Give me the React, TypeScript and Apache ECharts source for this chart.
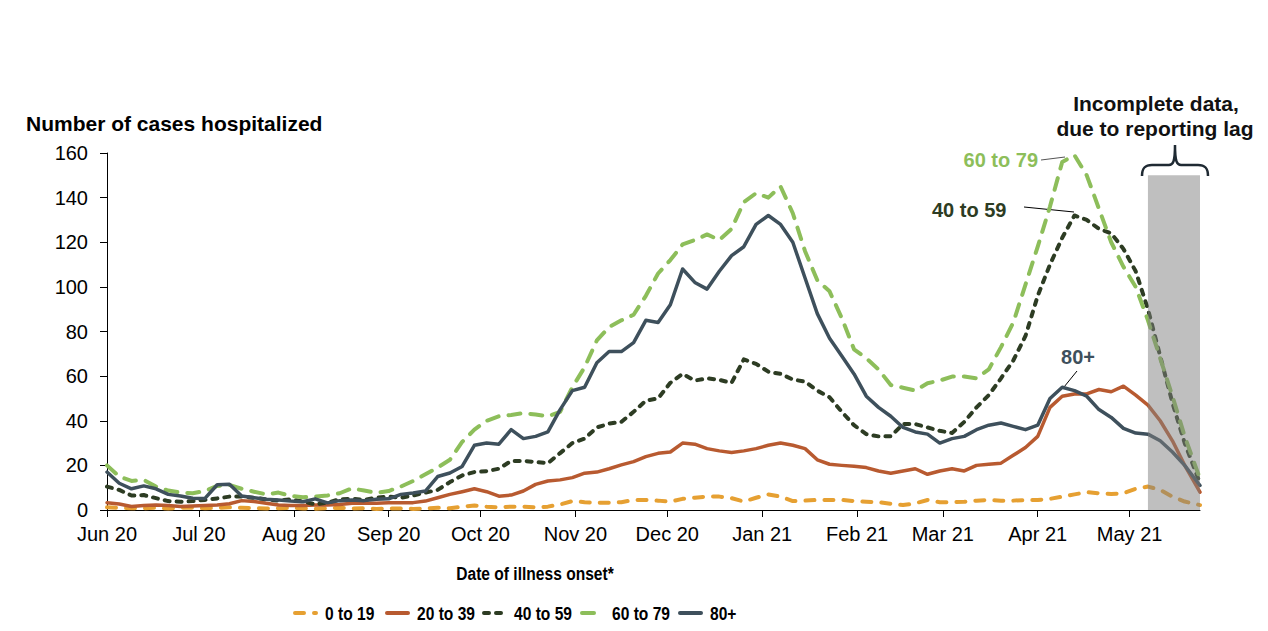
import React, { useEffect, useRef } from "react";
import * as echarts from "echarts";

const DATES = [
  "2020-06-01", "2020-06-05", "2020-06-09", "2020-06-13", "2020-06-17", "2020-06-21", "2020-06-25", "2020-06-29",
  "2020-07-03", "2020-07-07", "2020-07-11", "2020-07-15", "2020-07-19", "2020-07-23", "2020-07-27", "2020-07-31",
  "2020-08-04", "2020-08-08", "2020-08-12", "2020-08-16", "2020-08-20", "2020-08-24", "2020-08-28", "2020-09-01",
  "2020-09-05", "2020-09-09", "2020-09-13", "2020-09-17", "2020-09-21", "2020-09-25", "2020-09-29", "2020-10-03",
  "2020-10-07", "2020-10-11", "2020-10-15", "2020-10-19", "2020-10-23", "2020-10-27", "2020-10-31", "2020-11-04",
  "2020-11-08", "2020-11-12", "2020-11-16", "2020-11-20", "2020-11-24", "2020-11-28", "2020-12-02", "2020-12-06",
  "2020-12-10", "2020-12-14", "2020-12-18", "2020-12-22", "2020-12-26", "2020-12-30", "2021-01-03", "2021-01-07",
  "2021-01-11", "2021-01-15", "2021-01-19", "2021-01-23", "2021-01-27", "2021-01-31", "2021-02-04", "2021-02-08",
  "2021-02-12", "2021-02-16", "2021-02-20", "2021-02-24", "2021-02-28", "2021-03-04", "2021-03-08", "2021-03-12",
  "2021-03-16", "2021-03-20", "2021-03-24", "2021-03-28", "2021-04-01", "2021-04-05", "2021-04-09", "2021-04-13",
  "2021-04-17", "2021-04-21", "2021-04-25", "2021-04-29", "2021-05-03", "2021-05-07", "2021-05-11", "2021-05-15",
  "2021-05-19", "2021-05-24",
];

const AGE_0_19 = [
  1.2, 1, 0.8, 0.8, 1, 0.7, 1, 1, 0.8, 1,
  1.2, 1, 0.8, 0.7, 0.8, 1, 0.7, 0.5, 0.8, 1,
  0.7, 0.8, 0.5, 0.7, 0.7, 0.5, 0.7, 1, 0.8, 1.5,
  2, 1.5, 1.2, 1.5, 1.5, 1.2, 1.5, 2.5, 4, 3.5,
  3.2, 3.3, 3.5, 4.5, 4.5, 4.2, 3.7, 5, 5.5, 6,
  6, 5.3, 3.8, 5.5, 7, 6, 4, 4.2, 4.5, 4.5,
  4.5, 4, 3.7, 3.5, 2.8, 2.2, 3, 4.5, 3.5, 3.5,
  3.7, 4.2, 4.5, 4.2, 4.2, 4.5, 4.5, 5, 6, 7,
  8, 7.5, 7.2, 7.5, 9.5, 10.5, 9, 6, 3.8, 2.2,
];

const AGE_20_39 = [
  3.3, 2.7, 1.6, 2, 2.2, 2, 1.6, 1.8, 2, 2.2,
  2.8, 4.2, 3.8, 3, 2.2, 2, 2, 2.2, 2.2, 2.5,
  3, 3, 3, 3.2, 3.3, 3.3, 4, 5.5, 7, 8.2,
  9.5, 8.2, 6.2, 6.7, 8.5, 11.5, 13, 13.5, 14.5, 16.5,
  17, 18.5, 20.2, 21.7, 23.9, 25.4, 26, 30, 29.5, 27.5,
  26.5, 25.8, 26.5, 27.5, 29, 30, 29, 27.5, 22.5, 20.5,
  20, 19.6, 19, 17.5, 16.5, 17.5, 18.5, 16, 17.5, 18.5,
  17.5, 20, 20.5, 21, 24.5, 28, 33, 46, 51, 52,
  52, 54, 53, 55.5, 51.5, 47, 40, 31, 20, 8,
];

const AGE_40_59 = [
  10.5, 9, 6.5, 6.7, 5.3, 4, 3.7, 4, 4.5, 5.2,
  6, 6, 5.5, 4.8, 4.2, 4.8, 3.8, 2.5, 3.3, 4.8,
  5, 4.5, 5.5, 6, 5.5, 6.5, 7.8, 9, 12.5, 15.5,
  17, 17.4, 18.5, 22, 22, 21.5, 21, 25.5, 30, 32,
  37, 38.7, 39.5, 44, 49, 50, 57, 61, 58, 59,
  58.3, 57, 67.5, 65.5, 62, 61, 58.5, 57.5, 53.5, 50.5,
  44, 38, 34, 33, 33, 38.5, 38.5, 37, 35.5, 34.5,
  39.5, 46, 51.5, 59, 67, 78, 96, 110, 122, 132,
  130, 126, 124, 117, 107, 90, 69, 48, 30, 12,
];

const AGE_60_79 = [
  20, 15, 13, 13.5, 10.5, 8.7, 7.8, 7.5, 8.5, 10.8,
  11.2, 9.5, 8.2, 7, 7.8, 6.3, 5.7, 6, 6.5, 7.5,
  9.7, 8.7, 7.7, 8.5, 10.5, 13, 16, 19, 22.5, 30.5,
  36, 40, 42, 42.6, 43.4, 42.8, 42, 44, 55, 64,
  76, 82, 85, 87.5, 96, 106, 112, 119, 121, 123.5,
  121, 126, 138, 142, 140, 145, 133, 116, 103, 98,
  86, 72, 68, 63, 56, 54.8, 53.5, 56.8, 58, 59.8,
  59.8, 59, 63, 73, 84, 101, 118, 136, 156, 159,
  150, 135, 120, 109, 100, 85, 68, 51, 33, 14,
];

const AGE_80_PLUS = [
  17, 12, 9.5, 10.8, 9.5, 7, 6.3, 5.3, 5.2, 11.3,
  11.5, 6.3, 5.5, 4.8, 4.5, 4, 3.7, 5, 3.2, 4.2,
  4.5, 4.2, 4.8, 5, 7, 7.6, 8.5, 15, 16.6, 19.5,
  29, 30, 29.5, 36, 32, 33, 35, 45, 53.5, 55,
  66, 71, 71, 75, 85, 84, 92, 108, 102, 99,
  107, 114, 118, 128, 132, 128, 120, 104, 88, 77,
  69, 61, 51, 46, 42, 37, 35, 34, 30, 32,
  33, 36, 38, 39, 37.5, 36, 38, 50, 55, 53.5,
  51, 45, 41.5, 36.6, 34.5, 34, 31, 26, 20, 11,
];

const SERIES_NAMES = ["0 to 19", "20 to 39", "40 to 59", "60 to 79", "80+"];
const MONTHS = ["Jan", "Feb", "Mar", "Apr", "May", "Jun", "Jul", "Aug", "Sep", "Oct", "Nov", "Dec"];
const X_MIN = "2020-06-01";
const X_MAX = "2021-05-24";
const GRAY_START = "2021-05-07";
const GRAY_TOP = 150;

const COLORS = ["#E6A032", "#B85A30", "#2D3C23", "#8DBE5A", "#3E505C"];
const DASHES: any[] = [[9, 10], "solid", [5, 7], [12, 10], "solid"];
const WIDTHS = [4, 3.5, 4, 4, 3.5];

const FONT = "'Liberation Sans', Arial, sans-serif";
const DAY = 86400000;

echarts.graphic.registerShape(
  "brace",
  echarts.graphic.extendPath(
    "M0,31 C0,23 3,20 10,20 L27,20 C31,20 33,17 33,0 C33,17 35,20 39,20 L56,20 C63,20 66,23 66,31",
    {}
  )
);

function pairs(values: number[]) {
  return DATES.map((d, i) => [d, values[i]]);
}

const VALUES = [AGE_0_19, AGE_20_39, AGE_40_59, AGE_60_79, AGE_80_PLUS];

// legend layout (pixel positions of the custom legend)
const LEGEND_ICON_X = [293, 385, 482, 580, 678];
const LEGEND_Y = 613;

export default function App() {
  const ref = useRef<HTMLDivElement>(null);

  useEffect(() => {
    if (!ref.current) return;
    const chart = echarts.init(ref.current, null, { renderer: "svg" });

    const series = SERIES_NAMES.map((name, i) => ({
      name,
      type: "line",
      data: pairs(VALUES[i]),
      symbol: "none",
      showSymbol: false,
      lineStyle: { color: COLORS[i], width: WIDTHS[i], type: DASHES[i], cap: "round", join: "round" },
      itemStyle: { color: COLORS[i] },
      emphasis: { disabled: true },
    }));

    const legendGraphics: any[] = [];
    SERIES_NAMES.forEach((name, i) => {
      const x = LEGEND_ICON_X[i];
      const dash = DASHES[i];
      legendGraphics.push({
        id: "lg-line-" + i,
        type: "line",
        shape: { x1: x + 2, y1: LEGEND_Y, x2: x + 23, y2: LEGEND_Y },
        style: {
          stroke: COLORS[i],
          lineWidth: 4,
          lineCap: "round",
          lineDash: Array.isArray(dash) ? dash : null,
        },
      });
      legendGraphics.push({
        id: "lg-text-" + i,
        type: "text",
        x: x + 32,
        y: LEGEND_Y,
        scaleX: 0.82,
        style: {
          text: name,
          fontFamily: FONT,
          fontWeight: "bold",
          fontSize: 19,
          fill: "#000",
          align: "left",
          verticalAlign: "middle",
        },
      });
    });

    const option: any = {
      animation: false,
      grid: { left: 107, right: 68, top: 153, bottom: 121, containLabel: false },
      xAxis: {
        type: "time",
        min: X_MIN,
        max: X_MAX,
        splitNumber: 12,
        minInterval: 28 * DAY,
        maxInterval: 31 * DAY,
        axisLine: { show: true, lineStyle: { color: "#000", width: 1 } },
        axisTick: { show: true, length: 7, inside: false, lineStyle: { color: "#000" } },
        splitLine: { show: false },
        axisLabel: {
          fontFamily: FONT,
          fontSize: 20,
          color: "#000",
          margin: 14,
          hideOverlap: false,
          formatter: (v: number) => {
            const d = new Date(v);
            return MONTHS[d.getMonth()] + " " + String(d.getFullYear()).slice(2);
          },
        },
      },
      yAxis: {
        type: "value",
        min: 0,
        max: 160,
        interval: 20,
        axisLine: { show: true, lineStyle: { color: "#000", width: 1 } },
        axisTick: { show: true, length: 7, inside: false, lineStyle: { color: "#000" } },
        splitLine: { show: false },
        axisLabel: { fontFamily: FONT, fontSize: 20, color: "#000", margin: 19 },
      },
      series,
      graphic: [
        {
          id: "ytitle",
          type: "text",
          x: 26,
          y: 123,
          style: {
            text: "Number of cases hospitalized",
            fontFamily: FONT,
            fontWeight: "bold",
            fontSize: 21,
            fill: "#000",
            align: "left",
            verticalAlign: "middle",
          },
        },
        {
          id: "xtitle",
          type: "text",
          x: 535,
          y: 573,
          scaleX: 0.82,
          style: {
            text: "Date of illness onset*",
            fontFamily: FONT,
            fontWeight: "bold",
            fontSize: 19,
            fill: "#000",
            align: "center",
            verticalAlign: "middle",
          },
        },
        {
          id: "inc1",
          type: "text",
          x: 1156,
          y: 103,
          style: {
            text: "Incomplete data,",
            fontFamily: FONT,
            fontWeight: "bold",
            fontSize: 21,
            fill: "#111",
            align: "center",
            verticalAlign: "middle",
          },
        },
        {
          id: "inc2",
          type: "text",
          x: 1155,
          y: 128,
          style: {
            text: "due to reporting lag",
            fontFamily: FONT,
            fontWeight: "bold",
            fontSize: 21,
            fill: "#111",
            align: "center",
            verticalAlign: "middle",
          },
        },
        {
          id: "brace",
          type: "brace",
          x: 1142,
          y: 145,
          style: { stroke: "#1f2a33", lineWidth: 2.5, fill: "none" },
        },
        {
          id: "lbl60",
          type: "text",
          x: 1038,
          y: 160,
          style: {
            text: "60 to 79",
            fontFamily: FONT,
            fontWeight: "bold",
            fontSize: 20,
            fill: COLORS[3],
            align: "right",
            verticalAlign: "middle",
          },
        },
        {
          id: "lead60",
          type: "line",
          shape: { x1: 1041, y1: 160, x2: 1065, y2: 157 },
          style: { stroke: "#555", lineWidth: 1 },
        },
        {
          id: "lbl40",
          type: "text",
          x: 932,
          y: 210,
          style: {
            text: "40 to 59",
            fontFamily: FONT,
            fontWeight: "bold",
            fontSize: 20,
            fill: COLORS[2],
            align: "left",
            verticalAlign: "middle",
          },
        },
        {
          id: "lead40",
          type: "line",
          shape: { x1: 1024, y1: 207, x2: 1074, y2: 212 },
          style: { stroke: "#000", lineWidth: 1 },
        },
        {
          id: "lbl80",
          type: "text",
          x: 1078,
          y: 357,
          style: {
            text: "80+",
            fontFamily: FONT,
            fontWeight: "bold",
            fontSize: 20,
            fill: COLORS[4],
            align: "center",
            verticalAlign: "middle",
          },
        },
        {
          id: "lead80",
          type: "line",
          shape: { x1: 1077, y1: 371, x2: 1064, y2: 387 },
          style: { stroke: "#000", lineWidth: 1 },
        },
        ...legendGraphics,
      ],
    };

    chart.setOption(option);

    // grey "incomplete data" band, placed through the chart's own scales, drawn over the lines
    const p1 = chart.convertToPixel({ xAxisIndex: 0, yAxisIndex: 0 }, [GRAY_START, GRAY_TOP]) as number[];
    const p2 = chart.convertToPixel({ xAxisIndex: 0, yAxisIndex: 0 }, [X_MAX, 0]) as number[];
    chart.setOption({
      graphic: [
        {
          id: "grayband",
          type: "rect",
          z: 100,
          silent: true,
          shape: { x: p1[0], y: p1[1], width: p2[0] - p1[0], height: p2[1] - p1[1] },
          style: { fill: "rgba(128,128,128,0.5)" },
        },
      ],
    });

    return () => chart.dispose();
  }, []);

  return (
    <div
      ref={ref}
      style={{ position: "fixed", left: 0, top: 0, width: 1268, height: 631, background: "#fff" }}
    />
  );
}
